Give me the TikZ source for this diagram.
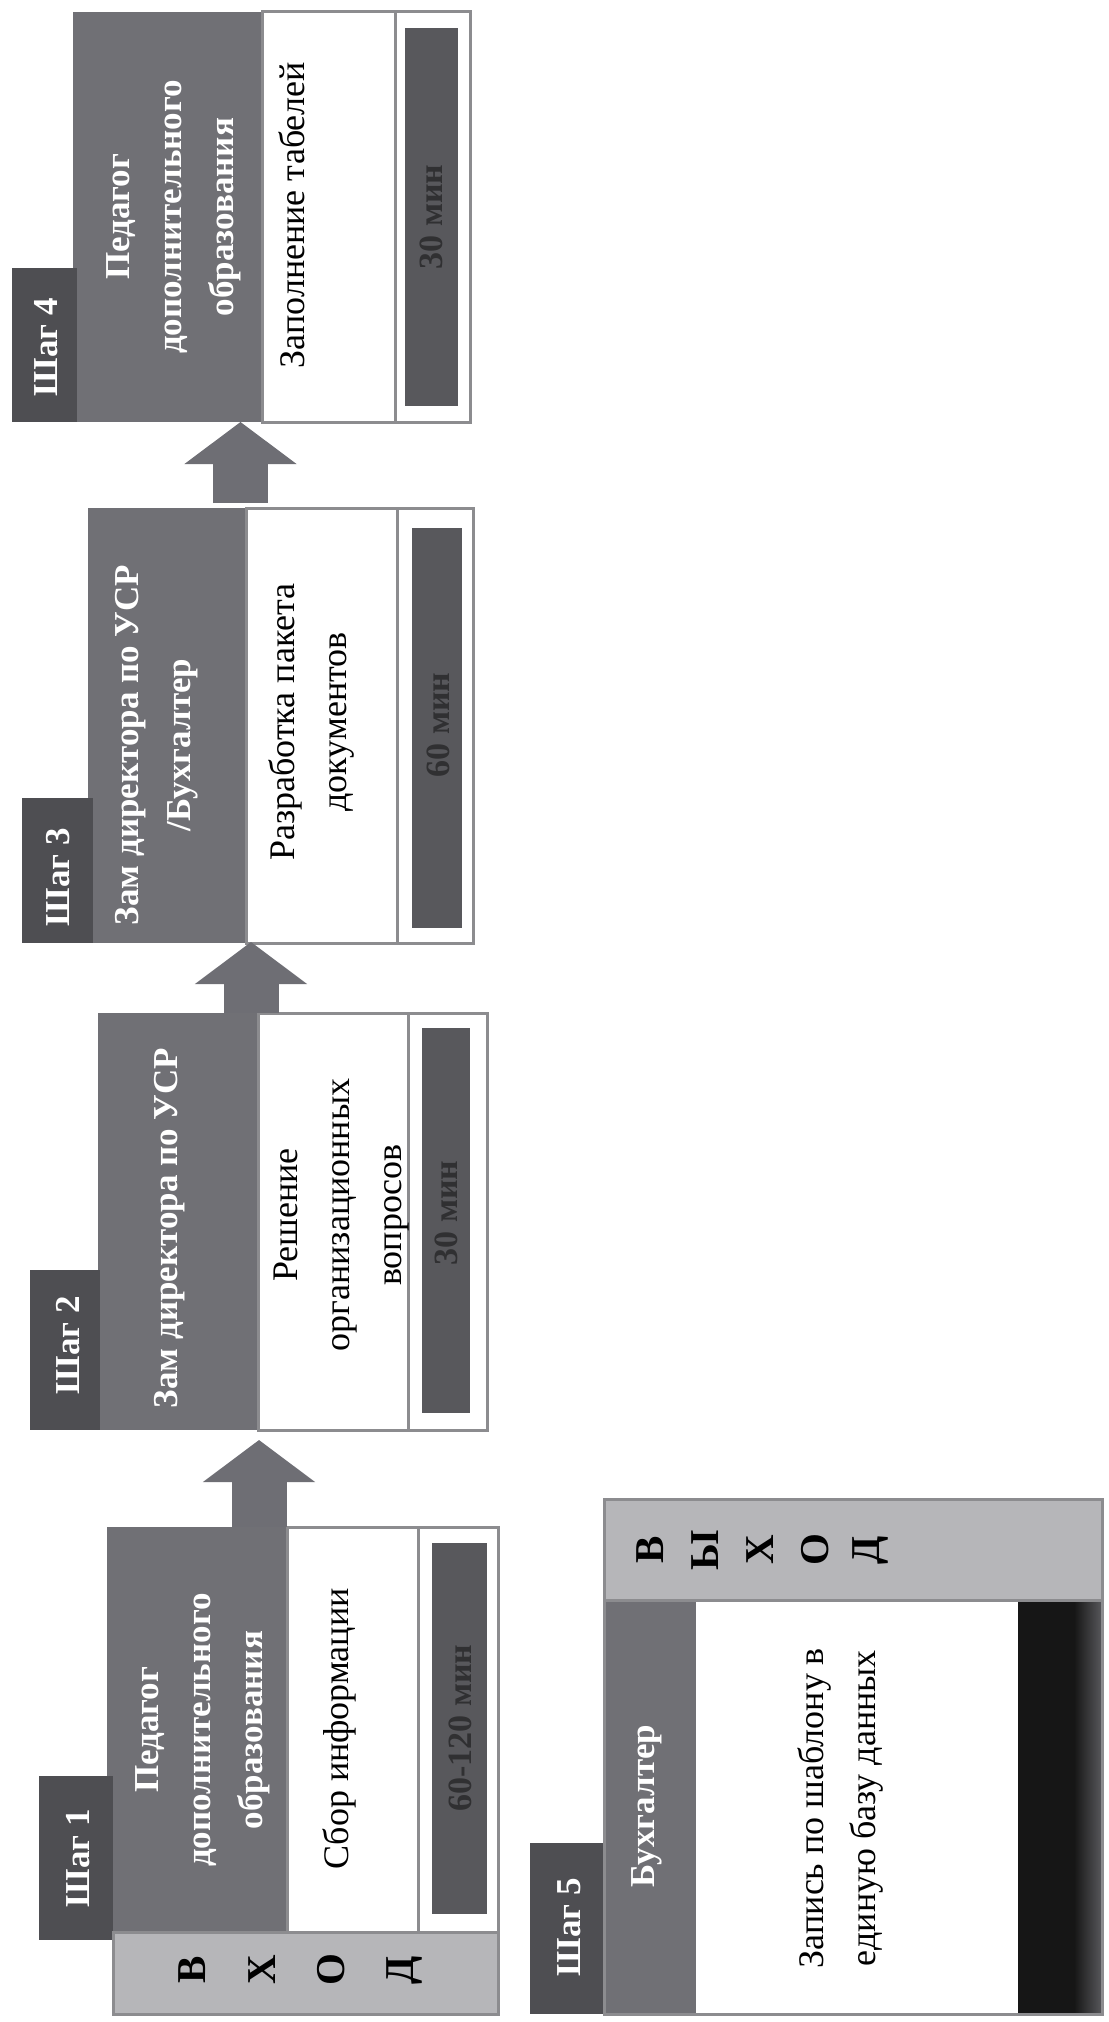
\documentclass[tikz,border=0pt]{standalone}
\usepackage{fontspec}
\setmainfont{Liberation Serif}
\usetikzlibrary{arrows.meta}
\definecolor{band}{RGB}{112,112,117}
\definecolor{tabc}{RGB}{78,78,82}
\definecolor{inlet}{RGB}{182,182,185}
\definecolor{edge}{RGB}{140,140,143}
\definecolor{tbar}{RGB}{88,88,92}
\definecolor{ttext}{RGB}{48,48,50}
\definecolor{arrowc}{RGB}{110,110,116}
\definecolor{blackstrip}{RGB}{22,22,22}
\tikzset{
  boxedge/.style={draw=edge, line width=1.5pt},
  hdr/.style={rotate=90, text=white, font=\fontsize{17.5}{26}\selectfont\bfseries, align=center, inner sep=0pt},
  tabtxt/.style={rotate=90, text=white, font=\fontsize{17.5}{21}\selectfont\bfseries, inner sep=0pt},
  body/.style={rotate=90, text=black, font=\fontsize{18}{26}\selectfont, align=center, inner sep=0pt},
  tim/.style={rotate=90, text=ttext, font=\fontsize{17}{20}\selectfont\bfseries, inner sep=0pt},
  letter/.style={rotate=90, text=black, font=\fontsize{20.5}{22}\selectfont\bfseries, inner sep=0pt},
  blockarrow/.style={draw=arrowc, line width=27.5pt, -{Triangle[length=21pt 0 0, width=55pt 0 0]}},
}
\begin{document}
\begin{tikzpicture}[x=0.5pt, y=-0.5pt]
\fill[white] (0,0) rectangle (1108,2022);
\useasboundingbox (0,0) rectangle (1108,2022);

% ---------- Step 4 ----------
\fill[band] (73,12) rectangle (262,422);
\fill[tabc] (12,268) rectangle (77,422);
\fill[white] (262,12) rectangle (470,422);
\fill[tbar] (405,28) rectangle (458,406);
\draw[boxedge] (262,12) rectangle (470,422);
\draw[boxedge] (395,12) -- (395,422);
\node[tabtxt] (s4tab) at (46,347) {Шаг 4};
\node[hdr] (s4hdr) at (174,217) {Педагог\\дополнительного\\образования};
\node[body] (s4body) at (292,215) {Заполнение табелей};
\node[tim] (s4time) at (431,217) {30 мин};

% ---------- Step 3 ----------
\fill[band] (88,508) rectangle (246,943);
\fill[tabc] (22,798) rectangle (93,943);
\fill[white] (246,508) rectangle (473,943);
\fill[tbar] (412,528) rectangle (462,928);
\draw[boxedge] (246,508) rectangle (473,943);
\draw[boxedge] (397,508) -- (397,943);
\node[tabtxt] (s3tab) at (58,877) {Шаг 3};
\node[hdr] (s3hdr) at (157,745) {Зам директора по УСР\\/Бухгалтер};
\node[body] (s3body) at (311,722) {Разработка пакета\\документов};
\node[tim] (s3time) at (438,725) {60 мин};

% ---------- Step 2 ----------
\fill[band] (98,1013) rectangle (258,1430);
\fill[tabc] (30,1270) rectangle (100,1430);
\fill[white] (258,1013) rectangle (487,1430);
\fill[tbar] (422,1028) rectangle (470,1413);
\draw[boxedge] (258,1013) rectangle (487,1430);
\draw[boxedge] (408,1013) -- (408,1430);
\node[tabtxt] (s2tab) at (68,1345) {Шаг 2};
\node[hdr] (s2hdr) at (170,1228) {Зам директора по УСР};
\node[body] (s2body) at (342,1215) {Решение\\организационных\\вопросов};
\node[tim] (s2time) at (446,1213) {30 мин};

% ---------- Step 1 ----------
\fill[band] (107,1527) rectangle (287,1940);
\fill[tabc] (39,1776) rectangle (113,1940);
\fill[white] (287,1527) rectangle (498,1932);
\fill[tbar] (432,1543) rectangle (487,1914);
\draw[boxedge] (287,1527) rectangle (498,1932);
\draw[boxedge] (418,1527) -- (418,1932);
\fill[inlet] (113,1932) rectangle (498,2014);
\draw[boxedge] (113,1932) rectangle (498,2014);
\node[tabtxt] (s1tab) at (78,1858) {Шаг 1};
\node[hdr] (s1hdr) at (203,1730) {Педагог\\дополнительного\\образования};
\node[body] (s1body) at (339,1729) {Сбор информации};
\node[tim] (s1time) at (460,1728) {60-120 мин};
\node[letter] (in1) at (192,1970) {В};
\node[letter] (in2) at (262,1970) {Х};
\node[letter] (in3) at (331,1970) {О};
\node[letter] (in4) at (404,1970) {Д};

% ---------- Step 5 ----------
\fill[band] (604,1600) rectangle (696,2014);
\fill[tabc] (530,1843) rectangle (606,2014);
\fill[white] (696,1600) rectangle (1018,2014);
\fill[blackstrip] (1018,1600) rectangle (1074,2014);
\shade[left color=blackstrip, right color=tbar] (1074,1600) rectangle (1102,2014);
\fill[inlet] (604,1499) rectangle (1102,1600);
\draw[boxedge] (604,1499) rectangle (1102,2014);
\draw[boxedge] (604,1600) -- (1102,1600);
\node[tabtxt] (s5tab) at (569,1927) {Шаг 5};
\node[hdr] (s5hdr) at (647,1806) {Бухгалтер};
\node[body] (s5body) at (840,1808) {Запись по шаблону в\\единую базу данных};
\node[letter] (out1) at (650,1550) {В};
\node[letter] (out2) at (705,1550) {Ы};
\node[letter] (out3) at (760,1550) {Х};
\node[letter] (out4) at (815,1550) {О};
\node[letter] (out5) at (870,1550) {Д};

% ---------- Arrows ----------
\coordinate (a4s) at (240.5,503); \coordinate (a4t) at (240.5,422);
\coordinate (a3s) at (251,1013);  \coordinate (a3t) at (251,942);
\coordinate (a2s) at (259,1527);  \coordinate (a2t) at (259,1440);
\draw[blockarrow] (a4s) -- (a4t);
\draw[blockarrow] (a3s) -- (a3t);
\draw[blockarrow] (a2s) -- (a2t);
\end{tikzpicture}
\end{document}
